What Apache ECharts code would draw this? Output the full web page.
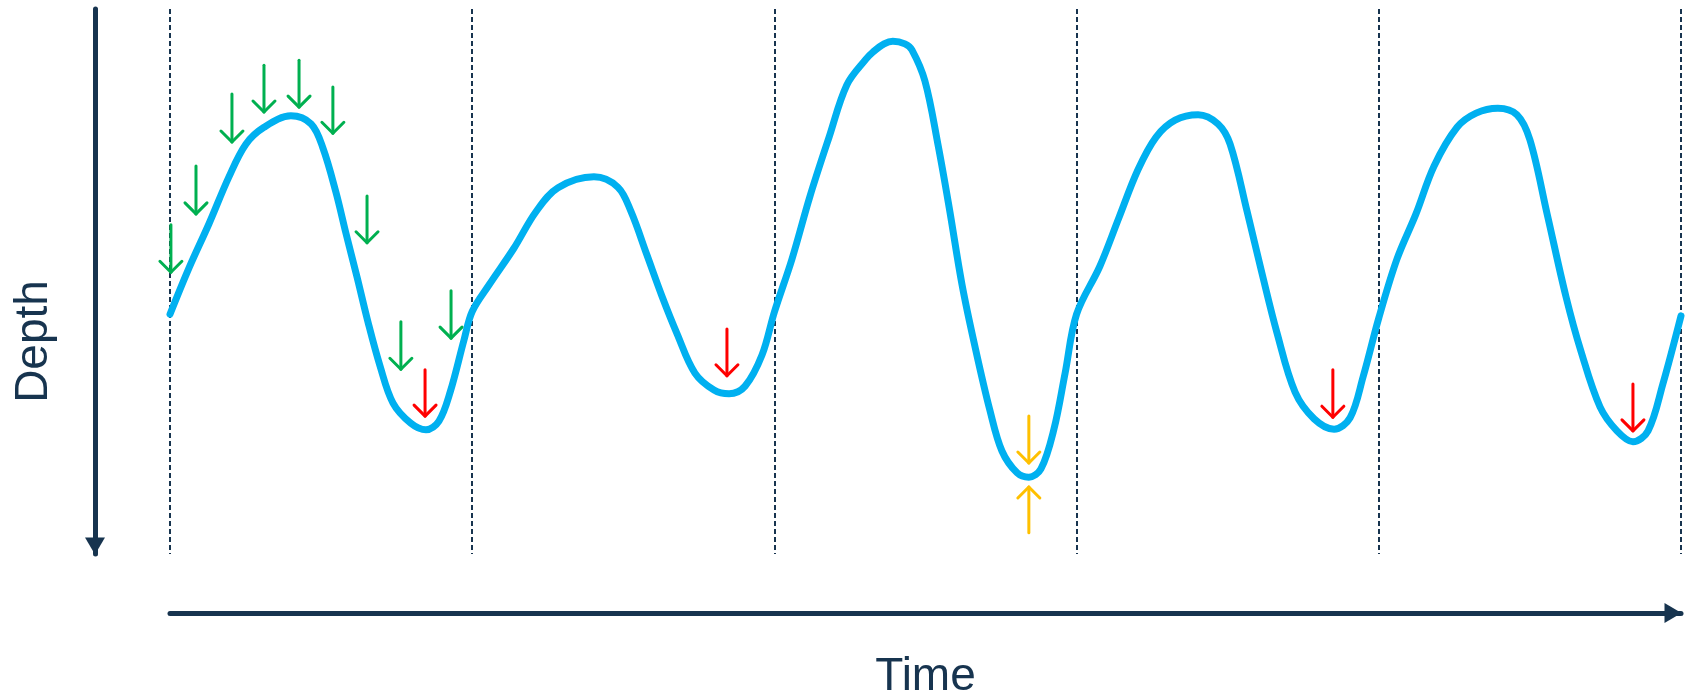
<!DOCTYPE html>
<html>
<head>
<meta charset="utf-8">
<title>Depth over time</title>
<script src="https://cdn.jsdelivr.net/npm/echarts@6/dist/echarts.min.js"></script>
<style>
    html, body { margin: 0; padding: 0; background: #fff; }
    #chart { width: 1689px; height: 693px; }
</style>
</head>
<body>
<div id="chart"></div>
<script>
// time in cycles (one cycle between two dashed lines), depth 0..100 (down = deeper)
const waveTime = [
    0, 0.063, 0.129, 0.195, 0.251, 0.311, 0.400, 0.467, 0.506, 0.549, 0.582, 0.619, 0.655, 0.695, 0.738, 0.797, 0.847, 0.890, 0.927, 0.973,
    1.0, 1.056, 1.138, 1.211, 1.284, 1.403, 1.482, 1.525, 1.578, 1.628, 1.678, 1.737, 1.800, 1.850, 1.903, 1.959,
    2.0, 2.058, 2.118, 2.181, 2.240, 2.303, 2.326, 2.363, 2.392, 2.432, 2.455, 2.498, 2.541, 2.578, 2.621, 2.664, 2.713, 2.753, 2.803, 2.842, 2.882, 2.925, 2.962,
    3.0, 3.077, 3.140, 3.203, 3.263, 3.326, 3.402, 3.468, 3.508, 3.564, 3.613, 3.663, 3.723, 3.786, 3.852, 3.905, 3.948,
    4.0, 4.060, 4.123, 4.183, 4.259, 4.322, 4.394, 4.457, 4.500, 4.557, 4.619, 4.669, 4.732, 4.788, 4.841, 4.891, 4.940, 5.0
];
const waveDepth = [
    56.0, 47.5, 39.4, 30.8, 24.8, 21.7, 19.6, 21.1, 25.5, 33.6, 41.1, 49.2, 57.4, 65.5, 72.3, 76.0, 77.2, 75.6, 70.3, 60.7,
    55.5, 50.6, 43.9, 37.2, 32.8, 30.8, 32.7, 37.1, 45.1, 52.7, 59.6, 66.8, 69.9, 70.6, 69.2, 63.5,
    55.6, 45.9, 34.3, 23.5, 13.9, 9.2, 7.9, 6.4, 5.9, 6.4, 7.5, 13.2, 24.8, 36.3, 50.6, 62.0, 73.6, 81.1, 85.1, 85.9, 84.4, 77.1, 66.8,
    56.0, 47.2, 38.3, 29.5, 23.5, 20.4, 19.4, 21.1, 24.8, 37.1, 48.4, 59.4, 70.3, 75.2, 77.1, 75.0, 67.5,
    56.7, 45.9, 37.6, 28.8, 21.7, 19.1, 18.2, 19.4, 24.0, 37.6, 52.7, 62.8, 73.0, 77.4, 79.4, 77.4, 68.8, 56.3
];

// arrows: [time, depth at tail, depth at tip]
const greenArrows = [
    [0.003, 39.6, 48.3], [0.086, 28.8, 37.6], [0.205, 15.6, 24.4], [0.311, 10.3, 18.9], [0.427, 9.4, 18.0],
    [0.539, 14.3, 22.8], [0.652, 34.3, 42.9], [0.764, 57.4, 66.1], [0.930, 51.7, 60.4]
];
const redArrows = [
    [0.844, 66.2, 74.7], [1.843, 58.7, 67.3], [3.848, 66.2, 74.9], [4.841, 68.8, 77.4]
];
const amberArrows = [
    [2.842, 74.7, 83.3], [2.842, 96.1, 87.7]
];

const navy = '#17344f';
const fontFamily = '"Liberation Sans", Arial, sans-serif';

const chart = echarts.init(document.getElementById('chart'));

function arrowItem(params, api) {
    const from = api.coord([api.value(0), api.value(1)]);
    const to = api.coord([api.value(0), api.value(2)]);
    const dx = to[0] - from[0], dy = to[1] - from[1];
    const len = Math.sqrt(dx * dx + dy * dy) || 1;
    const ux = dx / len, uy = dy / len;
    const back = 11, side = 11;
    const left = [to[0] - ux * back - uy * side, to[1] - uy * back + ux * side];
    const right = [to[0] - ux * back + uy * side, to[1] - uy * back - ux * side];
    const color = api.visual('color');
    return {
        type: 'group',
        children: [
            { type: 'line', shape: { x1: from[0], y1: from[1], x2: to[0], y2: to[1] },
              style: { stroke: color, lineWidth: 3, lineCap: 'round' } },
            { type: 'polyline', shape: { points: [left, to, right] },
              style: { stroke: color, lineWidth: 3, lineCap: 'round', lineJoin: 'round', fill: null } }
        ]
    };
}

function arrowSeries(data, color) {
    return {
        type: 'custom',
        renderItem: arrowItem,
        itemStyle: { color: color },
        encode: { x: 0, y: [1, 2] },
        data: data,
        z: 5,
        silent: true
    };
}

const option = {
    animation: false,
    backgroundColor: '#fff',
    grid: { left: 170, right: 8, top: 9, bottom: 139, containLabel: false, outerBoundsMode: 'none' },
    xAxis: {
        type: 'value',
        position: 'bottom',
        min: 0,
        max: 5,
        interval: 1,
        offset: 59,
        name: 'Time',
        nameLocation: 'middle',
        nameGap: 41,
        nameTextStyle: { fontSize: 46, color: navy, fontFamily: fontFamily },
        axisLine: {
            show: true,
            onZero: false,
            symbol: ['none', 'triangle'],
            symbolSize: [20, 17],
            symbolOffset: [0, -8],
            lineStyle: { color: navy, width: 5 }
        },
        axisTick: { show: false },
        axisLabel: { show: false },
        splitLine: {
            show: true,
            lineStyle: { color: navy, width: 2, type: [5, 3] }
        }
    },
    yAxis: {
        type: 'value',
        position: 'left',
        min: 0,
        max: 100,
        inverse: true,
        offset: 75,
        name: 'Depth',
        nameLocation: 'middle',
        nameGap: 38,
        nameTextStyle: { fontSize: 46, color: navy, fontFamily: fontFamily, padding: [0, 120, 0, 0] },
        axisLine: {
            show: true,
            onZero: false,
            symbol: ['triangle', 'none'],
            symbolSize: [20, 17],
            symbolOffset: [8, 0],
            lineStyle: { color: navy, width: 5 }
        },
        axisTick: { show: false },
        axisLabel: { show: false },
        splitLine: { show: false }
    },
    series: [
        {
            type: 'line',
            data: waveTime.map((t, i) => [t, waveDepth[i]]),
            smooth: 0.35,
            showSymbol: false,
            lineStyle: { color: '#00b0f0', width: 7, cap: 'round', join: 'round' },
            z: 3,
            silent: true
        },
        arrowSeries(greenArrows, '#00b050'),
        arrowSeries(redArrows, '#ff0000'),
        arrowSeries(amberArrows, '#ffc000')
    ]
};

chart.setOption(option);
</script>
</body>
</html>
